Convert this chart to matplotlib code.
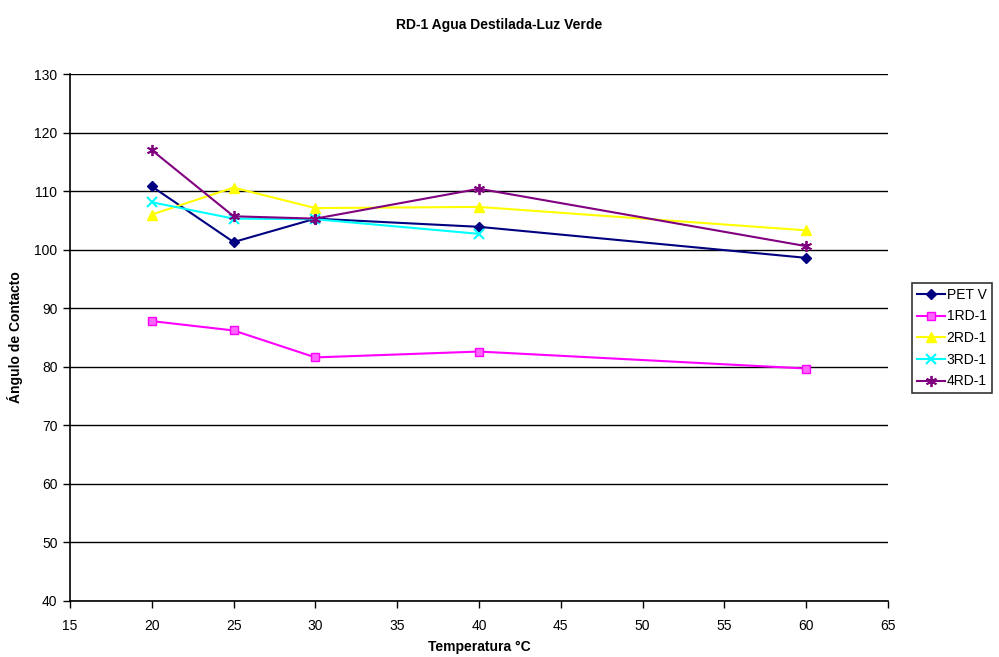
import matplotlib
matplotlib.use("Agg")
import matplotlib.pyplot as plt

plt.rcParams['font.family'] = ['Liberation Sans', 'DejaVu Sans']

temps_full = [20, 25, 30, 40, 60]
temps_3rd = [20, 25, 30, 40]

pet_v = [110.8, 101.3, 105.3, 103.9, 98.6]
rd1_1 = [87.8, 86.2, 81.6, 82.6, 79.7]
rd1_2 = [106.0, 110.6, 107.1, 107.3, 103.3]
rd1_3 = [108.1, 105.3, 105.2, 102.7]
rd1_4 = [117.0, 105.7, 105.3, 110.4, 100.6]

x_ticks = [15, 20, 25, 30, 35, 40, 45, 50, 55, 60, 65]
y_ticks = [40, 50, 60, 70, 80, 90, 100, 110, 120, 130]

fig = plt.figure(figsize=(9.99, 6.57), dpi=100)
ax = fig.add_axes([70/999, 1-601/657, (888-70)/999, (601-74)/657])

series = [
    ("PET V", temps_full, pet_v, "#000080", "D", dict(markersize=5)),
    ("1RD-1", temps_full, rd1_1, "#FF00FF", "s", dict(markersize=6, markerfacecolor="#FF66FF")),
    ("2RD-1", temps_full, rd1_2, "#FFFF00", "^", dict(markersize=7)),
    ("3RD-1", temps_3rd, rd1_3, "#00FFFF", "x", dict(markersize=7, markeredgewidth=1.5)),
    ("4RD-1", temps_full, rd1_4, "#800080", (6, 2, 0), dict(markersize=8, markeredgewidth=1.3)),
]
for label, xs, ys, color, marker, kw in series:
    ax.plot(xs, ys, color=color, marker=marker, linewidth=1.5, label=label,
            markeredgecolor=color, **kw)

ax.set_xlim(15, 65)
ax.set_ylim(40, 130)
ax.set_xticks(x_ticks)
ax.set_yticks(y_ticks)
ax.yaxis.grid(True, color="black", linewidth=1.0)
ax.set_axisbelow(True)
for s in ("top", "right"):
    ax.spines[s].set_visible(False)
for s in ("left", "bottom"):
    ax.spines[s].set_linewidth(1.2)
ax.tick_params(direction="out", length=5, width=1, labelsize=10)
ax.tick_params(axis="x", pad=8)
ax.tick_params(axis="y", pad=4)

ax.set_xlabel("Temperatura °C", fontsize=10, fontweight="bold", labelpad=5)
ax.set_ylabel("Ángulo de Contacto", fontsize=10, fontweight="bold", labelpad=8)
fig.suptitle("RD-1 Agua Destilada-Luz Verde", fontsize=10, fontweight="bold",
             x=0.5, y=1-25/657, va="center")

leg = ax.legend(loc="upper left", bbox_to_anchor=(912/999, 1-283/657),
                bbox_transform=fig.transFigure, fontsize=10, frameon=True,
                fancybox=False, edgecolor="black", borderpad=0.35,
                labelspacing=0.55, handlelength=2.0, handletextpad=0.15,
                borderaxespad=0)
leg.get_frame().set_linewidth(1.2)

fig.savefig("out.png", dpi=100, facecolor="white")
